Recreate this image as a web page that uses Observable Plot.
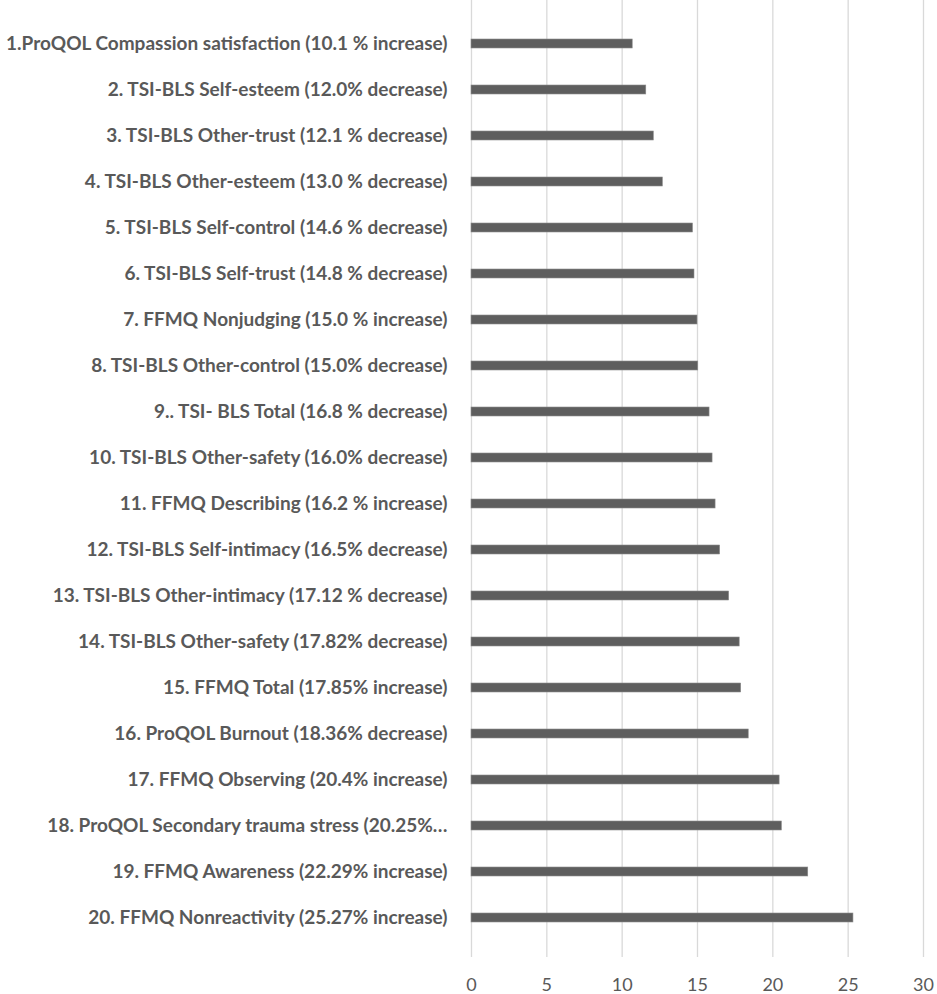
<!DOCTYPE html>
<html><head><meta charset="utf-8">
<script src="https://cdn.jsdelivr.net/npm/d3@7"></script>
<script src="https://cdn.jsdelivr.net/npm/@observablehq/plot@0.6"></script>
<style>
html,body{margin:0;padding:0;background:#fff;}
</style></head><body><div id="chart"></div>
<script>
const categories = [
  "1.ProQOL Compassion satisfaction (10.1 % increase)",
  "2. TSI-BLS Self-esteem (12.0% decrease)",
  "3. TSI-BLS Other-trust (12.1 % decrease)",
  "4. TSI-BLS Other-esteem (13.0 % decrease)",
  "5. TSI-BLS Self-control (14.6 % decrease)",
  "6. TSI-BLS Self-trust (14.8 % decrease)",
  "7. FFMQ Nonjudging (15.0 % increase)",
  "8. TSI-BLS Other-control (15.0% decrease)",
  "9.. TSI- BLS Total (16.8 % decrease)",
  "10. TSI-BLS Other-safety (16.0% decrease)",
  "11. FFMQ Describing (16.2 % increase)",
  "12. TSI-BLS Self-intimacy (16.5% decrease)",
  "13. TSI-BLS Other-intimacy (17.12 % decrease)",
  "14. TSI-BLS Other-safety (17.82% decrease)",
  "15. FFMQ Total (17.85% increase)",
  "16. ProQOL Burnout (18.36% decrease)",
  "17. FFMQ Observing (20.4% increase)",
  "18. ProQOL Secondary trauma stress (20.25%\u2026",
  "19. FFMQ Awareness (22.29% increase)",
  "20. FFMQ Nonreactivity (25.27% increase)"
];
const values = [10.7, 11.6, 12.1, 12.7, 14.7, 14.8, 15.0, 15.05, 15.8, 16.0,
                16.2, 16.5, 17.1, 17.8, 17.9, 18.4, 20.45, 20.6, 22.35, 25.35];
const xTicks = [0, 5, 10, 15, 20, 25, 30];

const data = categories.map((c, i) => ({category: c, value: values[i]}));

const chart = Plot.plot({
  width: 937,
  height: 994,
  marginLeft: 471,
  marginRight: 14,
  marginTop: 0,
  marginBottom: 37,
  style: {fontFamily: "Lato, 'Open Sans', sans-serif", background: "#fff", color: "#595959"},
  x: {domain: [0, 30], ticks: xTicks},
  y: {domain: categories, range: [18, 943], paddingInner: 0.8, paddingOuter: 0.4},
  marks: [
    Plot.ruleX(xTicks, {stroke: "#d9d9d9", strokeWidth: 1.3}),
    Plot.barX(data, {y: "category", x: "value", fill: "#5e5e5e", stroke: "#8c8c8c", strokeWidth: 0.6}),
    Plot.axisX({ticks: xTicks, tickSize: 0, tickPadding: 21, fontSize: 18, label: null, fill: "#595959"}),
    Plot.axisY({tickSize: 0, tickPadding: 24, fontSize: 19, fontWeight: "bold", label: null, fill: "#595959"})
  ]
});
document.getElementById("chart").appendChild(chart);
</script>
</body></html>
